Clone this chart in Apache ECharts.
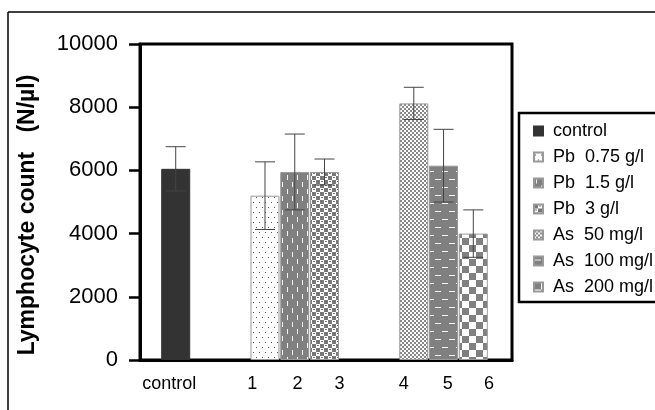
<!DOCTYPE html>
<html>
<head>
<meta charset="utf-8">
<script src="https://cdn.jsdelivr.net/npm/echarts@6/dist/echarts.min.js"></script>
<style>
  html, body { margin: 0; padding: 0; background: #fff; }
  #chart { width: 655px; height: 410px; }
</style>
</head>
<body>
<div id="chart"></div>
<script>
// groups, bar slot on the x axis, mean and error (N/µl)
var groupNames = ['control', 'Pb  0.75 g/l', 'Pb  1.5 g/l', 'Pb  3 g/l', 'As  50 mg/l', 'As  100 mg/l', 'As  200 mg/l'];
var barSlots = [1, 4, 5, 6, 9, 10, 11];
var meanValues = [6050, 5200, 5950, 5950, 8120, 6150, 4000];
var errValues = [700, 1070, 1200, 410, 510, 1150, 750];
var xTickLabels = ['control', '1', '2', '3', '4', '5', '6'];

// where the x labels sit (axis units), they are not centred on the bars in the original
var xLabelAt = [0.78, 3.57, 5.09, 6.5, 8.66, 10.14, 11.53];

var FONT = 'Liberation Sans, Arial, sans-serif';
var GRAY = '#808080';

function makePattern(w, h, bg, draw) {
    var c = document.createElement('canvas');
    c.width = w; c.height = h;
    var ctx = c.getContext('2d');
    ctx.fillStyle = bg;
    ctx.fillRect(0, 0, w, h);
    draw(ctx);
    return { image: c, repeat: 'repeat' };
}

var fills = [
    '#333333',
    // fine dots
    makePattern(6, 10, '#ffffff', function (ctx) {
        ctx.fillStyle = '#555';
        ctx.fillRect(1, 2, 1, 1);
        ctx.fillRect(4, 7, 1, 1);
    }),
    // vertical white dashes on gray
    makePattern(10, 14, GRAY, function (ctx) {
        ctx.fillStyle = '#f4f4f4';
        ctx.fillRect(2, 0, 1, 5);
        ctx.fillRect(7, 7, 1, 5);
    }),
    // blocks with dashes
    makePattern(8, 8, '#ffffff', function (ctx) {
        ctx.fillStyle = '#777';
        ctx.fillRect(0, 0, 4, 4);
        ctx.fillRect(4, 4, 4, 4);
        ctx.fillRect(5, 1, 2, 1);
        ctx.fillRect(1, 5, 2, 1);
    }),
    // small checker
    makePattern(4, 4, '#ffffff', function (ctx) {
        ctx.fillStyle = '#888';
        ctx.fillRect(0, 0, 2, 2);
        ctx.fillRect(2, 2, 2, 2);
    }),
    // horizontal white dashes on gray
    makePattern(14, 16, GRAY, function (ctx) {
        ctx.fillStyle = '#f4f4f4';
        ctx.fillRect(1, 3, 6, 1);
        ctx.fillRect(8, 11, 6, 1);
    }),
    // checkerboard
    makePattern(14, 14, '#ffffff', function (ctx) {
        ctx.fillStyle = GRAY;
        ctx.fillRect(0, 0, 7, 7);
        ctx.fillRect(7, 7, 7, 7);
    })
];

var series = groupNames.map(function (name, i) {
    return {
        name: name,
        type: 'bar',
        barWidth: 29,
        barGap: '-100%',
        data: [[barSlots[i], meanValues[i]]],
        itemStyle: {
            color: fills[i],
            borderColor: i === 0 ? '#333333' : '#999999',
            borderWidth: 1
        }
    };
});

var errData = barSlots.map(function (s, i) { return [s, meanValues[i], errValues[i]]; });

series.push({
    type: 'custom',
    name: 'err',
    encode: { x: 0, y: 1 },
    z: 5,
    data: errData,
    renderItem: function (params, api) {
        var x = api.value(0), m = api.value(1), e = api.value(2);
        var hi = api.coord([x, m + e]);
        var lo = api.coord([x, m - e]);
        var w = 10;
        var st = { stroke: '#444', lineWidth: 1 };
        return {
            type: 'group',
            children: [
                { type: 'line', shape: { x1: hi[0], y1: hi[1], x2: lo[0], y2: lo[1] }, style: st },
                { type: 'line', shape: { x1: hi[0] - w, y1: hi[1], x2: hi[0] + w, y2: hi[1] }, style: st },
                { type: 'line', shape: { x1: lo[0] - w, y1: lo[1], x2: lo[0] + w, y2: lo[1] }, style: st }
            ]
        };
    }
});

var myChart = echarts.init(document.getElementById('chart'));

var option = {
    animation: false,
    backgroundColor: '#fff',
    textStyle: { fontFamily: FONT },
    grid: {
        left: 140, right: 143, top: 44, bottom: 50,
        show: true, borderColor: '#000', borderWidth: 3
    },
    xAxis: {
        type: 'value',
        min: -0.2,
        max: 12.3,
        splitLine: { show: false },
        axisTick: { show: false },
        axisLine: { show: true, onZero: false, lineStyle: { color: '#000', width: 3 } },
        axisLabel: {
            customValues: xLabelAt,
            color: '#000',
            fontSize: 18,
            fontFamily: FONT,
            margin: 15,
            formatter: function (v) {
                for (var i = 0; i < xLabelAt.length; i++) {
                    if (Math.abs(xLabelAt[i] - v) < 1e-6) return xTickLabels[i];
                }
                return '';
            }
        }
    },
    yAxis: {
        type: 'value',
        min: 0,
        max: 10000,
        interval: 2000,
        name: 'Lymphocyte count   (N/µl)',
        nameLocation: 'middle',
        nameGap: 101,
        nameTextStyle: {
            color: '#000', fontSize: 23, fontWeight: 'bold', fontFamily: FONT,
            padding: [0, 26, 0, 0]
        },
        splitLine: { show: false },
        axisLine: { show: true, onZero: false, lineStyle: { color: '#000', width: 3 } },
        axisTick: { show: true, inside: false, length: 11, lineStyle: { color: '#000', width: 2.5 } },
        axisLabel: {
            color: '#000', fontSize: 22, fontFamily: FONT, margin: 22,
            formatter: function (v) { return String(v); }
        }
    },
    legend: {
        orient: 'vertical',
        left: 528,
        top: 117,
        itemWidth: 9,
        itemHeight: 9,
        itemGap: 8,
        icon: 'rect',
        data: groupNames,
        textStyle: { color: '#000', fontSize: 18, lineHeight: 18, fontFamily: FONT, padding: [0, 0, 0, 5] }
    },
    graphic: [
        { type: 'line', shape: { x1: 8, y1: 12, x2: 660, y2: 12 }, style: { stroke: '#000', lineWidth: 1.5 } },
        { type: 'line', shape: { x1: 8, y1: 12, x2: 8, y2: 420 }, style: { stroke: '#000', lineWidth: 1.5 } },
        { type: 'rect', shape: { x: 519, y: 113, width: 150, height: 189 }, style: { fill: 'none', stroke: '#000', lineWidth: 2.5 } }
    ],
    series: series
};

myChart.setOption(option);
</script>
</body>
</html>
